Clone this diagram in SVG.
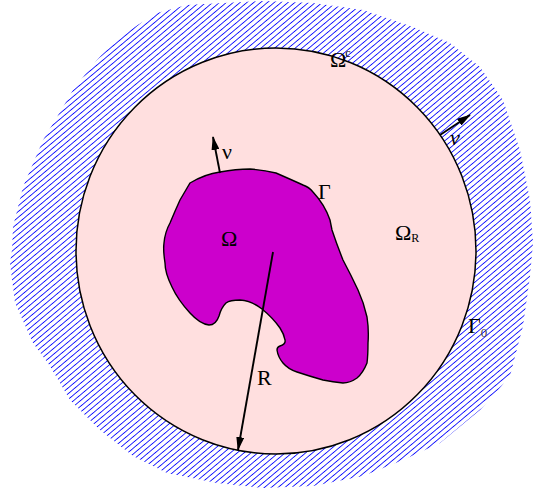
<svg xmlns="http://www.w3.org/2000/svg" width="533" height="493" viewBox="0 0 533 493">
  <style>
    .lbl { font-family: "Liberation Serif", "DejaVu Serif", serif; fill: #000; }
    .edge { stroke: #000; stroke-width: 1.4; fill: none; }
    .arr { stroke: #000; stroke-width: 1.9; fill: none; }
  </style>
  <defs>
    <pattern id="hatch" patternUnits="userSpaceOnUse" width="6" height="4.4" patternTransform="rotate(-40)">
      <line x1="-1" y1="2.2" x2="7" y2="2.2" stroke="#1010FF" stroke-width="0.9"/>
    </pattern>
    <marker id="ah" viewBox="0 0 14 8" refX="13" refY="4" markerWidth="14" markerHeight="8" markerUnits="userSpaceOnUse" orient="auto">
      <path d="M0,0 L14,4 L0,8 Z" fill="#000"/>
    </marker>
  </defs>

  <g id="exterior">
    <path d="M263,1 L313,3 L363,10 L413,27 L450,43 L480,67 L503,100 L520,150 L530,200 L533,243 L530,276 L523,326 L510,376 L493,396 L480,410 L440,443 L403,460 L363,476 L313,486 L263,488 L217,483 L167,473 L133,456 L100,430 L70,400 L50,366 L33,343 L15,303 L10,263 L12,250 L13,227 L23,187 L43,140 L60,112 L73,90 L95,62 L120,36 L157,13 L187,5 Z" fill="url(#hatch)"/>
  </g>

  <g id="ball">
    <ellipse cx="276" cy="251" rx="200" ry="203" fill="#FFDFDF" stroke="#000" stroke-width="1.5"/>
  </g>

  <g id="obstacle">
    <path d="M190,183 Q205,174 220,172 Q236,169 250,169 Q264,170 276,173 Q292,180 303,185 Q309,187 313,192 Q325,205 330,220 L332,230 Q337,245 343,260 Q351,275 358,290 Q364,303 367,317 Q369,330 368,343 Q368,355 367,363 Q363,373 357,378 Q350,383 343,383 Q333,382 323,380 Q309,376 297,372 Q288,369 283,363 Q278,357 277,350 Q277,347 280,346 Q286,344 285,340 Q284,334 280,328 Q273,318 262,309 Q252,301 240,300 Q230,300 226,303 Q221,308 219,316 Q216,325 209,325 Q200,324 190,313 Q178,300 172,287 Q165,273 165,263 Q163,250 164,243 Q165,232 170,223 Q175,211 180,200 Z" fill="#CC00CC" stroke="#000" stroke-width="1.4"/>
  </g>

  <g id="connectors">
    <line x1="220" y1="173" x2="213" y2="137" class="arr" marker-end="url(#ah)"/>
    <line x1="273" y1="252" x2="238" y2="450" class="arr" marker-end="url(#ah)"/>
    <line x1="440" y1="135" x2="470" y2="115" class="arr" marker-end="url(#ah)"/>
  </g>

  <g id="labels">
    <text class="lbl" x="221" y="246" font-size="22">Ω</text>
    <text class="lbl" x="222" y="159" font-size="22">ν</text>
    <text class="lbl" x="318" y="199" font-size="22">Γ</text>
    <text class="lbl" x="395" y="240" font-size="22">Ω<tspan font-size="12" dy="2">R</tspan></text>
    <text class="lbl" x="330" y="67" font-size="22">Ω<tspan font-size="12" dy="-10" dx="-1">c</tspan></text>
    <text class="lbl" x="450" y="145" font-size="22" font-style="italic">ν</text>
    <text class="lbl" x="468" y="333" font-size="22">Γ<tspan font-size="13" dy="4" fill="#444">0</tspan></text>
    <text class="lbl" x="257" y="385" font-size="22">R</text>
  </g>
</svg>
